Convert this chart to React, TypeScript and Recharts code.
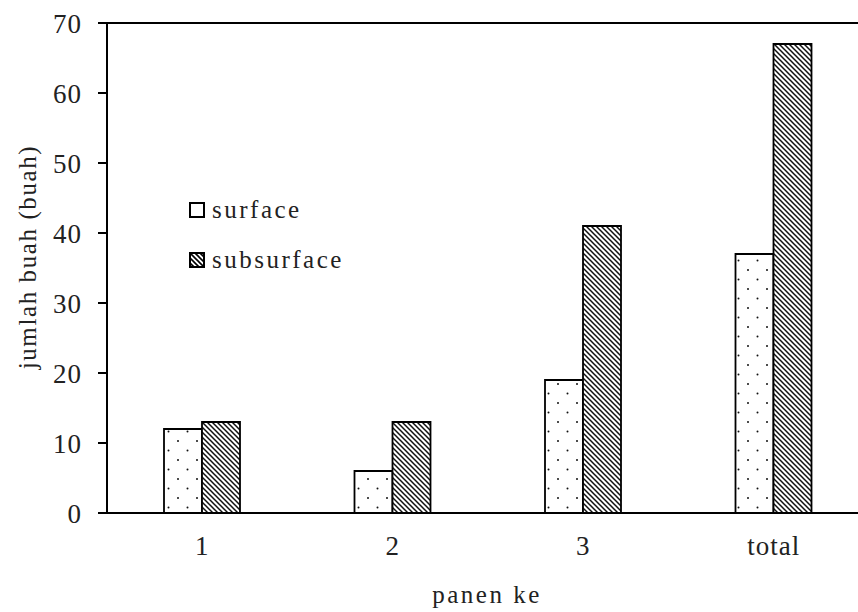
import { BarChart, Bar, XAxis, YAxis, ReferenceLine, Label } from "recharts";

const categories = ["1", "2", "3", "total"];
const surface = [12, 6, 19, 37];
const subsurface = [13, 13, 41, 67];
const yTicks = [0, 10, 20, 30, 40, 50, 60, 70];

const data = categories.map((name, i) => ({
    name,
    surface: surface[i],
    subsurface: subsurface[i]
}));

const FONT = "'Liberation Serif', 'Times New Roman', serif";
const INK = "#222";

const Swatch = ({ hatched }: { hatched?: boolean }) => (
    <svg width={16} height={16} style={{ marginRight: 7, flex: "none" }}>
        <defs>
            <pattern id="hatch-legend" width={5} height={5} patternUnits="userSpaceOnUse">
                <path d="M0,0 L5,5 M-1,4 L1,6 M4,-1 L6,1" stroke="#000" strokeWidth={1.6} />
            </pattern>
        </defs>
        <rect x={1} y={1} width={14} height={14} fill={hatched ? "url(#hatch-legend)" : "#fff"} stroke="#000" strokeWidth={2} />
    </svg>
);

const LegendBox = () => (
    <div
        style={{
            position: "absolute",
            left: 189,
            top: 197,
            fontFamily: FONT,
            fontSize: 25,
            letterSpacing: 2.5,
            color: INK,
            lineHeight: "26px"
        }}
    >
        <div style={{ display: "flex", alignItems: "center", height: 26 }}>
            <Swatch />
            <span>surface</span>
        </div>
        <div style={{ display: "flex", alignItems: "center", height: 26, marginTop: 24 }}>
            <Swatch hatched />
            <span>subsurface</span>
        </div>
    </div>
);

export default function App() {
    return (
        <div style={{ position: "absolute", left: 0, top: 0, width: 858, height: 612, overflow: "hidden", background: "#fff" }}>
            <BarChart
                width={870}
                height={612}
                data={data}
                margin={{ top: 23, right: 1, left: 0, bottom: 0 }}
                barGap={0}
                barSize={38}
            >
                <defs>
                    <pattern id="dots" width={19} height={19} patternUnits="userSpaceOnUse">
                        <rect width={19} height={19} fill="#fff" />
                        <circle cx={7} cy={4} r={1} fill="#111" />
                        <circle cx={16.5} cy={13.5} r={1} fill="#111" />
                    </pattern>
                    <pattern id="hatch" width={5} height={5} patternUnits="userSpaceOnUse">
                        <rect width={5} height={5} fill="#fff" />
                        <path d="M0,0 L5,5 M-1,4 L1,6 M4,-1 L6,1" stroke="#111" strokeWidth={1.5} />
                    </pattern>
                </defs>
                <XAxis
                    dataKey="name"
                    height={99}
                    axisLine={{ stroke: "#000", strokeWidth: 2 }}
                    tickLine={false}
                    tickMargin={17}
                    tick={{ fill: INK, fontSize: 27, fontFamily: FONT, letterSpacing: 1 }}
                >
                    <Label
                        content={() => (
                            <text
                                x={487}
                                y={603}
                                textAnchor="middle"
                                fill={INK}
                                fontSize={25}
                                fontFamily={FONT}
                                letterSpacing={2.5}
                            >
                                panen ke
                            </text>
                        )}
                    />
                </XAxis>
                <YAxis
                    width={107}
                    domain={[0, 70]}
                    ticks={yTicks}
                    interval={0}
                    axisLine={{ stroke: "#000", strokeWidth: 2 }}
                    tickLine={{ stroke: "#000", strokeWidth: 2 }}
                    tickSize={9}
                    tickMargin={16}
                    tick={{ fill: INK, fontSize: 27, fontFamily: FONT, letterSpacing: 1 }}
                >
                    <Label
                        content={() => (
                            <text
                                x={27}
                                y={257}
                                transform="rotate(-90 27 257)"
                                textAnchor="middle"
                                dominantBaseline="central"
                                fill={INK}
                                fontSize={25}
                                fontFamily={FONT}
                                letterSpacing={1.6}
                            >
                                jumlah buah (buah)
                            </text>
                        )}
                    />
                </YAxis>
                <ReferenceLine y={70} stroke="#000" strokeWidth={2} ifOverflow="visible" />
                <Bar dataKey="surface" fill="url(#dots)" stroke="#000" strokeWidth={1.8} isAnimationActive={false} />
                <Bar dataKey="subsurface" fill="url(#hatch)" stroke="#000" strokeWidth={1.8} isAnimationActive={false} />
            </BarChart>
            <LegendBox />
        </div>
    );
}
